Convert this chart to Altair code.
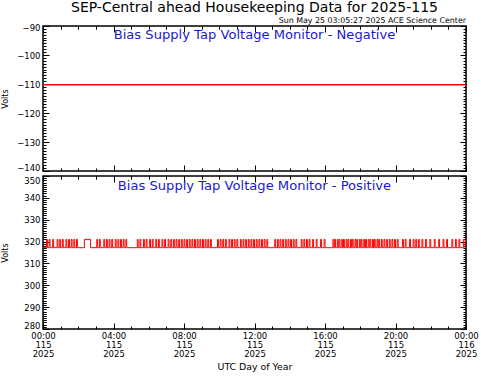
import altair as alt
import pandas as pd

FONT = "DejaVu Sans"

title_text = "SEP-Central ahead Housekeeping Data for 2025-115"
stamp_text = "Sun May 25 03:05:27 2025 ACE Science Center"
neg_label = "Bias Supply Tap Voltage Monitor - Negative"
pos_label = "Bias Supply Tap Voltage Monitor - Positive"
x_title = "UTC Day of Year"
y_title = "Volts"

# x ticks (hours of day 115)
x_tick_hours = [0, 4, 8, 12, 16, 20, 24]
x_tick_time = ["00:00", "04:00", "08:00", "12:00", "16:00", "20:00", "00:00"]
x_tick_doy = ["115", "115", "115", "115", "115", "115", "116"]
x_tick_year = ["2025", "2025", "2025", "2025", "2025", "2025", "2025"]
x_minor_hours = list(range(0, 25))

neg_ticks = [-140, -130, -120, -110, -100, -90]
pos_ticks = [280, 290, 300, 310, 320, 330, 340, 350]

# Negative supply: flat all day
neg_hours = [0.0, 24.0]
neg_volts = [-110.3, -110.3]

# Positive supply toggles between two levels
pos_low = 317.2
pos_high = 321.0
pos_high_start = [
    0.20, 0.35, 0.55, 0.80, 0.95, 1.10, 1.30, 1.45, 1.60, 1.75, 1.90,
    2.35, 3.05, 3.20, 3.45, 3.60, 3.75, 3.90, 4.10, 4.25, 4.40, 4.55, 4.70,
    5.35, 5.50, 5.70, 5.85, 6.05, 6.20, 6.40, 6.55, 6.75, 6.90, 7.10, 7.25,
    7.40, 7.55, 7.70, 7.85, 8.00, 8.15, 8.30, 8.45, 8.60, 8.75, 8.90, 9.05,
    9.20, 9.35, 9.50, 9.90, 10.05, 10.20, 10.35, 10.55, 10.70, 10.85, 11.00,
    11.20, 11.35, 11.50, 11.65, 11.80, 11.95, 12.10, 12.25, 12.40, 12.55,
    12.70, 13.15, 13.30, 13.45, 13.60, 13.75, 13.90, 14.05, 14.20, 14.35,
    14.65, 14.80, 14.95, 15.10, 15.30, 15.50, 15.75, 15.95, 16.45, 16.55,
    16.70, 16.80, 16.95, 17.05, 17.20, 17.30, 17.45, 17.55, 17.70, 17.80,
    17.95, 18.05, 18.20, 18.30, 18.45, 18.55, 18.70, 18.80, 18.95, 19.05,
    19.20, 19.35, 19.50, 19.65, 19.80, 19.95, 20.10, 20.40, 20.55, 20.80,
    21.00, 21.15, 21.30, 21.50, 21.70, 21.95, 22.20, 22.45, 22.70, 22.90,
    23.20, 23.40, 23.60, 23.85,
]
pos_high_end = [
    0.25, 0.40, 0.60, 0.85, 1.00, 1.15, 1.35, 1.50, 1.65, 1.80, 1.95,
    2.70, 3.10, 3.25, 3.50, 3.65, 3.80, 3.95, 4.15, 4.30, 4.45, 4.60, 4.75,
    5.40, 5.55, 5.75, 5.90, 6.10, 6.25, 6.45, 6.60, 6.80, 6.95, 7.15, 7.30,
    7.45, 7.60, 7.75, 7.90, 8.05, 8.20, 8.35, 8.50, 8.65, 8.80, 8.95, 9.10,
    9.25, 9.40, 9.55, 9.95, 10.10, 10.25, 10.40, 10.60, 10.75, 10.90, 11.05,
    11.25, 11.40, 11.55, 11.70, 11.85, 12.00, 12.15, 12.30, 12.45, 12.60,
    12.75, 13.20, 13.35, 13.50, 13.65, 13.80, 13.95, 14.10, 14.25, 14.40,
    14.70, 14.85, 15.00, 15.15, 15.35, 15.55, 15.80, 16.00, 16.50, 16.60,
    16.75, 16.85, 17.00, 17.10, 17.25, 17.35, 17.50, 17.60, 17.75, 17.85,
    18.00, 18.10, 18.25, 18.35, 18.50, 18.60, 18.75, 18.85, 19.00, 19.10,
    19.25, 19.40, 19.55, 19.70, 19.85, 20.00, 20.15, 20.45, 20.60, 20.85,
    21.05, 21.20, 21.35, 21.55, 21.75, 22.00, 22.25, 22.50, 22.75, 22.95,
    23.25, 23.45, 23.65, 23.95,
]

# ---- build tables ----
neg_df = pd.DataFrame({"h": neg_hours, "v": neg_volts})
ph, pv = [0.0], [pos_low]
for s, e in zip(pos_high_start, pos_high_end):
    ph += [s, e]
    pv += [pos_high, pos_low]
ph.append(24.0)
pv.append(pos_low)
pos_df = pd.DataFrame({"h": ph, "v": pv})

W = 423
H1 = 145
H2 = 153

label_expr = (
    "[" + ",".join("['%s','%s','%s']" % (a, b, c) for a, b, c in zip(x_tick_time, x_tick_doy, x_tick_year)) + "]"
    + "[indexof([" + ",".join(str(v) for v in x_tick_hours) + "], datum.value)]"
)

base_axis = dict(grid=False, domain=False, tickColor="black", tickWidth=1,
                 labelFont=FONT, labelColor="black", titleFont=FONT,
                 titleColor="black", titleFontWeight="normal")


def tick_axis(orient, values, size):
    return alt.Axis(orient=orient, values=values, tickSize=size, offset=-size,
                    labels=False, title=None, **base_axis)


def panel(df, domain, yticks, height, label, label_y, bottom_labels, interp, lw, edge_shift):
    xs = alt.Scale(domain=[0, 24], nice=False, zero=False)
    ys = alt.Scale(domain=domain, nice=False, zero=False)
    minor_y = list(range(domain[0], domain[1] + 1))

    if bottom_labels:
        xb = alt.Axis(orient="bottom", values=x_tick_hours, ticks=False, tickSize=0,
                      labelExpr=label_expr, labelFontSize=8.5, labelLineHeight=9,
                      labelPadding=2, labelFlush=False, labelOverlap=False,
                      labelBound=False, title=x_title, titleFontSize=9.4,
                      titlePadding=5, **base_axis)
    else:
        xb = tick_axis("bottom", x_tick_hours, 6)

    label_offset = {
        "condition": [{"test": "datum.value == %d" % v, "value": d} for v, d in edge_shift],
        "value": 0,
    }
    yl = alt.Axis(orient="left", values=yticks, ticks=False, tickSize=0,
                  labelFontSize=8.5, labelPadding=3, labelFlush=False,
                  labelOverlap=False, labelBound=False, labelOffset=label_offset,
                  title=y_title, titleFontSize=8, titleX=-34, titleY=height / 2,
                  **base_axis)

    layers = []
    layers.append(alt.Chart(df).mark_line(color="red", strokeWidth=lw, interpolate=interp).encode(
        x=alt.X("h:Q", scale=xs, axis=xb),
        y=alt.Y("v:Q", scale=ys, axis=yl),
    ))
    extra = [
        (tick_axis("top", x_tick_hours, 6), tick_axis("left", yticks, 6)),
        (tick_axis("top", x_minor_hours, 3), tick_axis("right", yticks, 6)),
        (tick_axis("bottom", x_minor_hours, 3), tick_axis("left", minor_y, 3)),
        (tick_axis("top", x_minor_hours, 3), tick_axis("right", minor_y, 3)),
    ]
    if bottom_labels:
        extra.append((tick_axis("bottom", x_tick_hours, 6), tick_axis("left", minor_y, 3)))
    for ax_x, ax_y in extra:
        layers.append(alt.Chart(df).mark_line(opacity=0).encode(
            x=alt.X("h:Q", scale=xs, axis=ax_x),
            y=alt.Y("v:Q", scale=ys, axis=ax_y),
        ))
    layers.append(alt.Chart(pd.DataFrame({"t": [label]})).mark_text(
        font=FONT, fontSize=13.1, color="#1a1acd", baseline="middle", align="center"
    ).encode(text="t:N", x=alt.value(W / 2), y=alt.value(label_y)))

    return alt.layer(*layers).resolve_axis(x="independent", y="independent").properties(
        width=W, height=height
    )


top = panel(neg_df, [-140, -90], neg_ticks, H1, neg_label, 9, False, "linear", 1.5,
            [(-140, -4), (-90, 1)])
stamp = alt.Chart(pd.DataFrame({"t": [stamp_text]})).mark_text(
    font=FONT, fontSize=7.9, color="black", baseline="middle", align="right"
).encode(text="t:N", x=alt.value(W), y=alt.value(-4.7))
main_title = alt.Chart(pd.DataFrame({"t": [title_text]})).mark_text(
    font=FONT, fontSize=14, color="black", baseline="alphabetic", align="center"
).encode(text="t:N", x=alt.value(W / 2), y=alt.value(-14))
top = alt.layer(top, stamp, main_title)

bottom = panel(pos_df, [280, 350], pos_ticks, H2, pos_label, 10, True, "step-after", 1,
               [(350, 4), (280, -3.5)])

chart = alt.vconcat(top, bottom, spacing=5, bounds="flush").properties(
    padding={"left": 0, "top": 0, "right": 2, "bottom": 2},
    background="white",
).configure_view(stroke="black", strokeWidth=1.5)

chart.save("out.html", embed_options={"renderer": "svg", "actions": False})
